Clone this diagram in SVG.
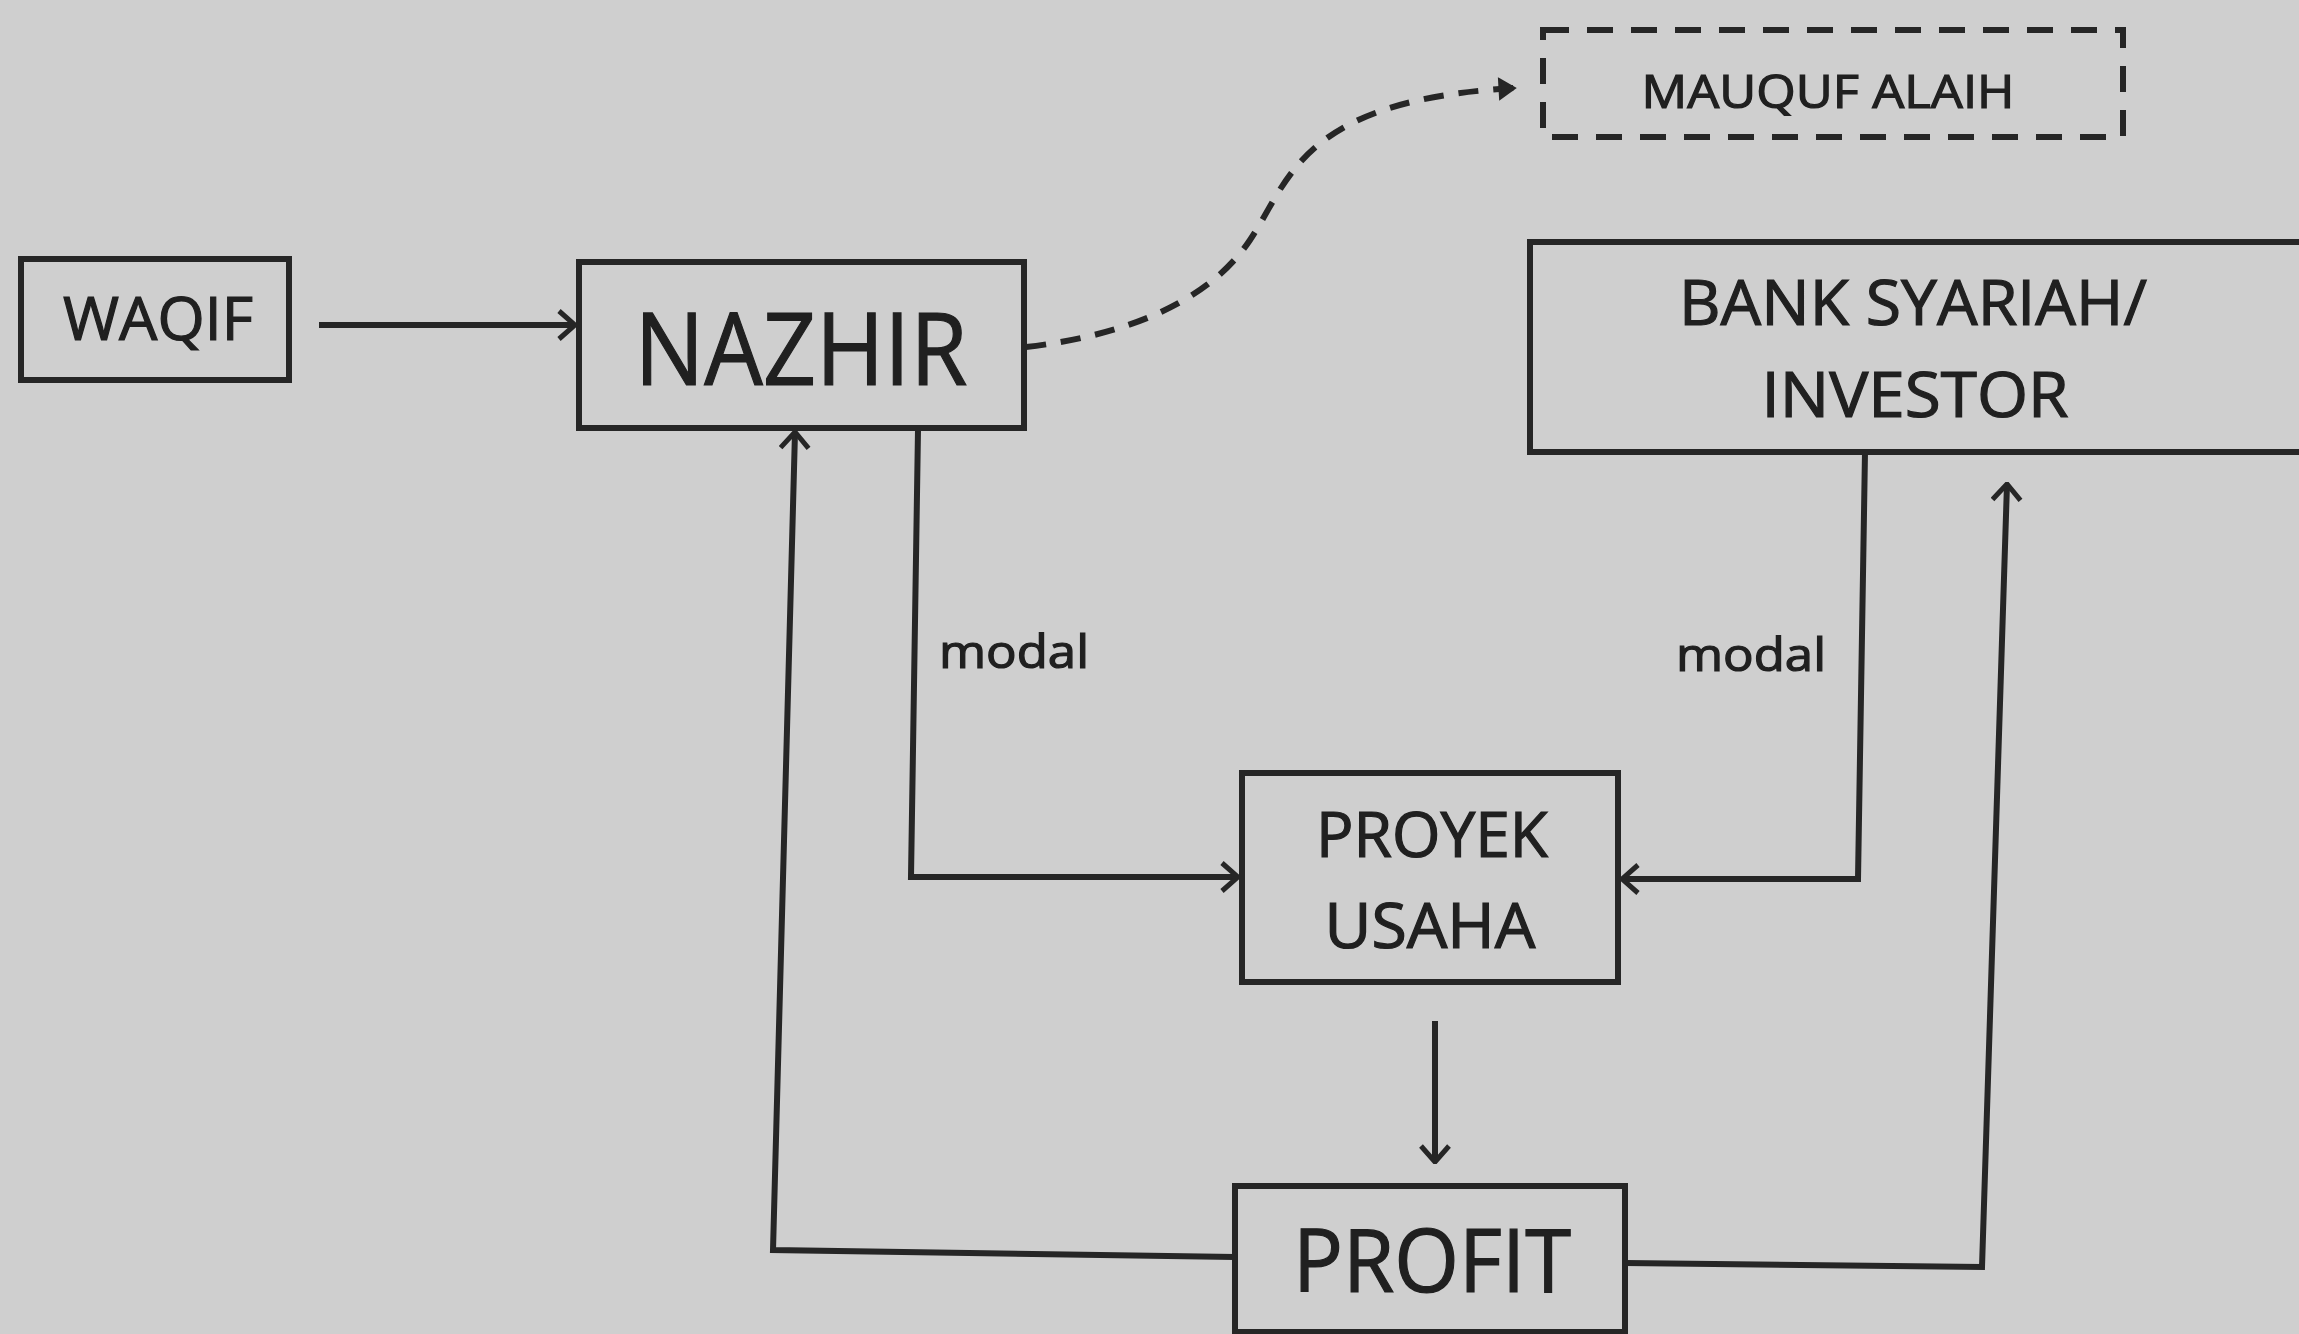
<svg xmlns="http://www.w3.org/2000/svg" width="2299" height="1334" viewBox="0 0 2299 1334">
<style>
.box{fill:none;stroke:#262626;stroke-width:6}
.dbox{fill:none;stroke:#262626;stroke-width:6;stroke-dasharray:26 18}
.ln{fill:none;stroke:#262626;stroke-width:6;stroke-linejoin:miter}
.dl{fill:none;stroke:#262626;stroke-width:6;stroke-dasharray:20 15}
text{font-family:"Open Sans","Noto Sans","DejaVu Sans",sans-serif;fill:#202020;stroke:#202020;stroke-width:1.2;text-anchor:middle}
</style>
<defs>
<marker id="arr" viewBox="0 0 20 32" refX="18" refY="16" markerWidth="20" markerHeight="32" markerUnits="userSpaceOnUse" orient="auto">
<path d="M2,2 L18,16 L2,30" fill="none" stroke="#262626" stroke-width="5"/>
</marker>
<marker id="darr" viewBox="0 0 20 24" refX="18" refY="12" markerWidth="20" markerHeight="24" markerUnits="userSpaceOnUse" orient="auto">
<path d="M3,3 L17,12 L3,21 Z" fill="#262626" stroke="#262626" stroke-width="3"/>
</marker>
</defs>
<rect width="2299" height="1334" fill="#cfcfcf"/>
<g id="connectors">
<path class="ln" d="M319,325 H575" marker-end="url(#arr)"/>
<path class="dl" d="M1026,347 C1130,335 1210,300 1250,240 C1290,180 1300,100 1515,88" marker-end="url(#darr)"/>
<path class="ln" d="M918,430 L911,877 H1238" marker-end="url(#arr)"/>
<path class="ln" d="M1865,452 L1858,879 H1622" marker-end="url(#arr)"/>
<path class="ln" d="M1435,1021 V1162" marker-end="url(#arr)"/>
<path class="ln" d="M1235,1257 L773,1250 L795,432" marker-end="url(#arr)"/>
<path class="ln" d="M1625,1263 L1982,1267 L2007,484" marker-end="url(#arr)"/>
<text x="1014" y="668" font-size="46" textLength="150" lengthAdjust="spacingAndGlyphs">modal</text>
<text x="1751" y="671" font-size="46" textLength="150" lengthAdjust="spacingAndGlyphs">modal</text>
</g>
<g id="waqif">
<rect class="box" x="21" y="259" width="268" height="121"/>
<text x="158" y="340" font-size="60" textLength="190" lengthAdjust="spacingAndGlyphs">WAQIF</text>
</g>
<g id="nazhir">
<rect class="box" x="579" y="262" width="445" height="166"/>
<text x="801" y="385" font-size="101" textLength="333" lengthAdjust="spacingAndGlyphs">NAZHIR</text>
</g>
<g id="mauquf-alaih">
<rect class="dbox" x="1543" y="30" width="580" height="107"/>
<text x="1828" y="108" font-size="46" textLength="373" lengthAdjust="spacingAndGlyphs">MAUQUF ALAIH</text>
</g>
<g id="bank-syariah">
<rect class="box" x="1530" y="242" width="800" height="210"/>
<text x="1913" y="325" font-size="63" textLength="468" lengthAdjust="spacingAndGlyphs">BANK SYARIAH/</text>
<text x="1915" y="417" font-size="63" textLength="307" lengthAdjust="spacingAndGlyphs">INVESTOR</text>
</g>
<g id="proyek-usaha">
<rect class="box" x="1242" y="773" width="376" height="209"/>
<text x="1432" y="857" font-size="62" textLength="232" lengthAdjust="spacingAndGlyphs">PROYEK</text>
<text x="1430" y="948" font-size="62" textLength="211" lengthAdjust="spacingAndGlyphs">USAHA</text>
</g>
<g id="profit">
<rect class="box" x="1235" y="1186" width="390" height="146"/>
<text x="1432" y="1292" font-size="87" textLength="278" lengthAdjust="spacingAndGlyphs">PROFIT</text>
</g>
</svg>
